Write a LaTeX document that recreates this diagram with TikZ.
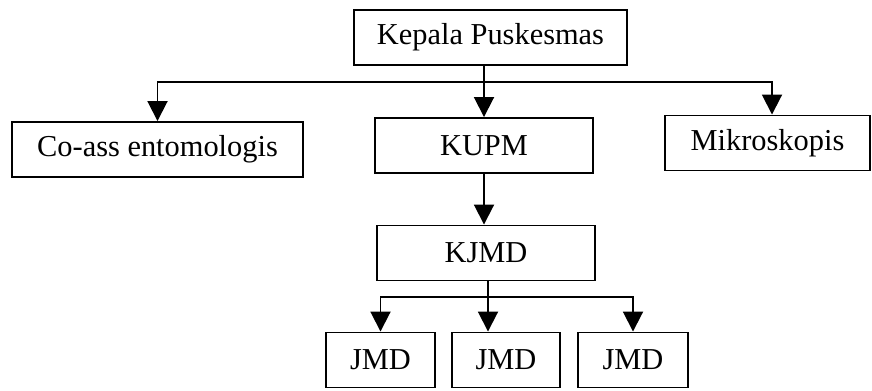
\documentclass[tikz,border=0pt]{standalone}
\usepackage{fontspec}
\setmainfont{Liberation Serif}
\usetikzlibrary{arrows.meta, positioning, calc}
\tikzset{
  %% -- unit box of the chart --
  org/box/.style={
    draw, line width=1.1pt, inner sep=0pt,
    minimum height=1.1cm, align=center,
    font=\fontsize{17.3}{20}\selectfont
  },
  %% -- connector with filled head --
  org/arr/.style={-{Triangle[length=0.4cm, width=0.4cm]}, line width=1.1pt},
  %% -- plain bus line --
  org/line/.style={line width=1.1pt},
}

\begin{document}
\begin{tikzpicture}[x=0.02cm, y=-0.02cm]
\useasboundingbox (0,0) rectangle (872,391);

%% ── Bus heights (px of the page) ──────────────────────────────────────────
\pgfmathsetmacro{\yBusA}{82}    %% under Kepala Puskesmas
\pgfmathsetmacro{\yBusB}{297}   %% under KJMD

%% ── Top level ──────────────────────────────────────────────────────────────
\node[org/box, minimum width=5.46cm] (kepala) at (490.5,37.5) {Kepala Puskesmas};

%% ── Second level ───────────────────────────────────────────────────────────
\node[org/box, minimum width=5.82cm] (coass) at (157.5,149.5) {Co-ass entomologis};
\node[org/box, minimum width=4.36cm] (kupm)  at (484,145.5)  {KUPM};
\node[org/box, minimum width=4.10cm] (mikro) at (767.5,143)  {Mikroskopis};

%% ── Third level ────────────────────────────────────────────────────────────
\node[org/box, minimum width=4.36cm] (kjmd) at (486,253) {KJMD};

%% ── Field workers ──────────────────────────────────────────────────────────
\node[org/box, minimum width=2.18cm] (jmd1) at (380.5,360) {JMD};
\node[org/box, minimum width=2.16cm] (jmd2) at (506,360)   {JMD};
\node[org/box, minimum width=2.20cm] (jmd3) at (633,360)   {JMD};

%% ── Connectors from the head ───────────────────────────────────────────────
\coordinate (busA) at (484,\yBusA);
\draw[org/arr] (kepala.south -| kupm.north) -- (kupm.north);
\draw[org/arr] (busA) -| (coass.north);
\draw[org/arr] (busA) -| ($(mikro.north)+(4.5,0)$);

%% ── KUPM down to KJMD ──────────────────────────────────────────────────────
\draw[org/arr] (kupm.south) -- (kupm.south |- kjmd.north);

%% ── KJMD down to the JMD boxes ─────────────────────────────────────────────
\coordinate (busB) at (488,\yBusB);
\draw[org/arr] (kjmd.south -| busB) -- (busB |- jmd2.north);
\draw[org/arr] (busB) -| (jmd1.north);
\draw[org/arr] (busB) -| (jmd3.north);

\end{tikzpicture}
\end{document}
